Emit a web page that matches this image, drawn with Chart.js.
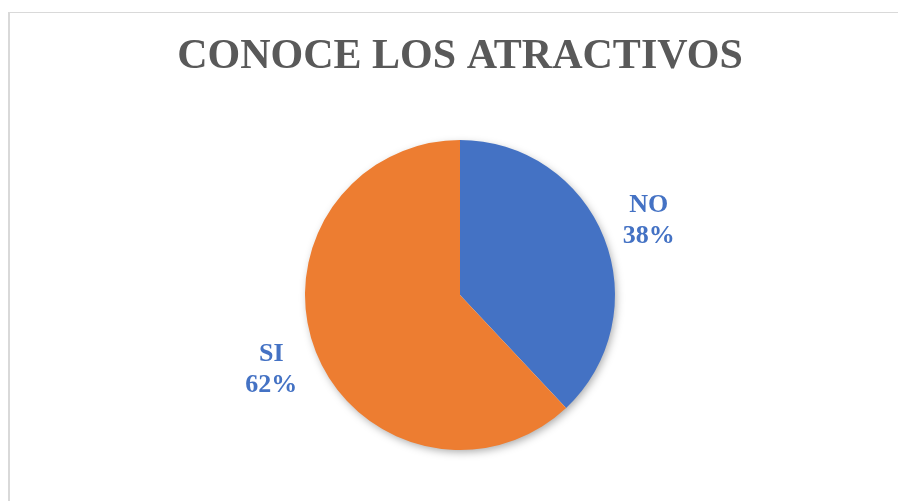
<!DOCTYPE html>
<html>
<head>
<meta charset="utf-8">
<script src="https://cdn.jsdelivr.net/npm/chart.js@4"></script>
<style>
  html, body { margin: 0; padding: 0; background: #fff; }
  #wrap { position: relative; width: 898px; height: 501px; overflow: hidden; }
  #frame {
    position: absolute; left: 8px; top: 12px; width: 2000px; height: 2000px;
    border-top: 1px solid #d9d9d9; border-left: 2px solid #d9d9d9;
    box-sizing: border-box; pointer-events: none;
  }
  canvas { position: absolute; left: 0; top: 0; }
</style>
</head>
<body>
<div id="wrap">
  <div id="frame"></div>
  <canvas id="pie"></canvas>
</div>
<script>
// --- data ---
const labels = ["NO", "SI"];
const values = [38, 62];
const colors = ["#4472C4", "#ED7D31"];
const titleText = "CONOCE LOS ATRACTIVOS";

// soft shadow drawn under the pie, using the arc geometry from Chart.js
const pieShadow = {
  id: "pieShadow",
  beforeDatasetsDraw(chart) {
    const arc = chart.getDatasetMeta(0).data[0];
    if (!arc) return;
    const { x, y, outerRadius } = arc.getProps(["x", "y", "outerRadius"], true);
    const c = chart.ctx;
    c.save();
    c.shadowColor = "rgba(0,0,0,0.35)";
    c.shadowBlur = 9;
    c.shadowOffsetX = 2;
    c.shadowOffsetY = 3;
    c.fillStyle = "#ffffff";
    c.beginPath();
    c.arc(x, y, outerRadius - 1, 0, Math.PI * 2);
    c.fill();
    c.restore();
  },
};

// category + percent labels outside each slice
const outsideLabels = {
  id: "outsideLabels",
  afterDatasetsDraw(chart) {
    const meta = chart.getDatasetMeta(0);
    const total = values.reduce((a, b) => a + b, 0);
    const c = chart.ctx;
    c.save();
    c.fillStyle = "#4472C4";
    c.font = "bold 26px 'Liberation Serif', 'Times New Roman', serif";
    c.textAlign = "center";
    c.textBaseline = "middle";
    meta.data.forEach((arc, i) => {
      const p = arc.getProps(["x", "y", "startAngle", "endAngle", "outerRadius"], true);
      const mid = (p.startAngle + p.endAngle) / 2;
      const r = p.outerRadius + 48;
      const lx = p.x + Math.cos(mid) * r;
      const ly = p.y + Math.sin(mid) * r;
      const pct = Math.round((values[i] / total) * 100) + "%";
      c.fillText(labels[i], lx, ly - 15);
      c.fillText(pct, lx, ly + 16);
    });
    c.restore();
  },
};

let chart = null;

function initChart() {
  const ctx = document.getElementById("pie");
  chart = new Chart(ctx, {
    type: "pie",
    data: {
      labels: labels,
      datasets: [
        {
          data: values,
          backgroundColor: colors,
          borderWidth: 0,
          hoverOffset: 0,
        },
      ],
    },
    options: {
      animation: false,
      responsive: true,
      maintainAspectRatio: false,
      layout: { padding: { left: 22, right: 0, top: 0, bottom: 51 } },
      plugins: {
        legend: { display: false },
        tooltip: { enabled: false },
        title: {
          display: true,
          text: titleText,
          color: "#595959",
          font: { family: "'Liberation Serif', 'Times New Roman', serif", size: 42, weight: "bold", lineHeight: 1.2 },
          padding: { top: 32, bottom: 57.6 },
        },
      },
    },
    plugins: [pieShadow, outsideLabels],
  });
}

initChart();
</script>
</body>
</html>
